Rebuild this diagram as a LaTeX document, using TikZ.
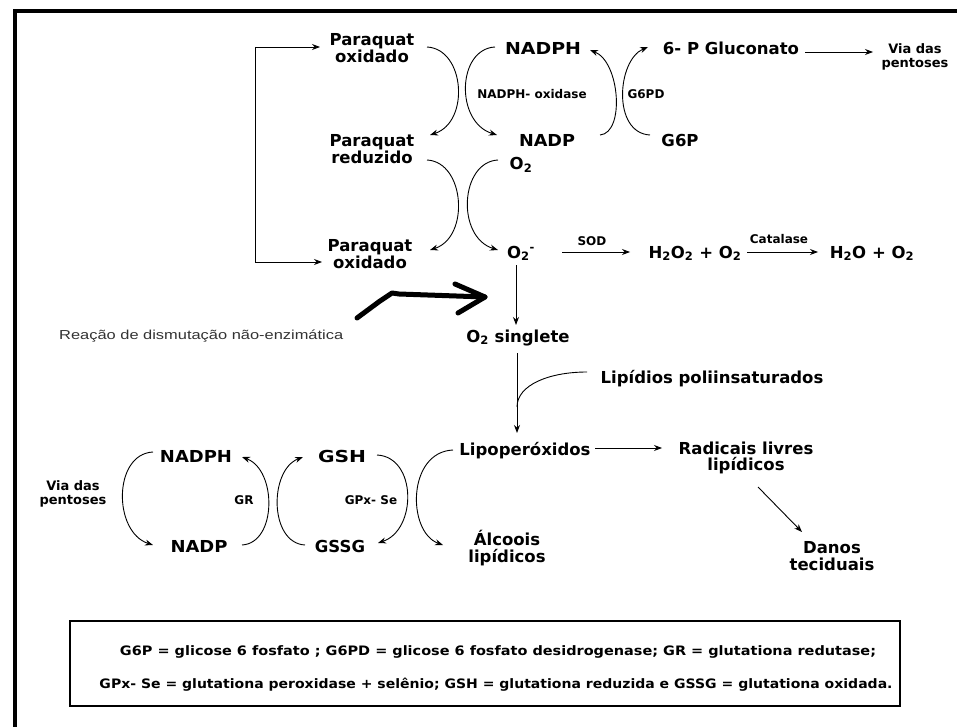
\documentclass[tikz,border=0pt]{standalone}
\usepackage{fontspec}
\usepackage{graphicx}
\setmainfont{DejaVu Sans}
\newfontfamily\arialf{Liberation Sans}
\usetikzlibrary{arrows.meta,calc}
\newcommand{\fitw}[2]{\resizebox{#1}{\height}{#2}}
\newcommand{\mysb}[1]{\textsubscript{#1}}
\begin{document}
\begin{tikzpicture}[x=1pt,y=-1pt,
  big/.style={font=\fontsize{16.5}{16.5}\selectfont\bfseries, align=center, inner sep=0pt},
  sml/.style={font=\fontsize{12}{13}\selectfont\bfseries, align=center, inner sep=0pt},
  via/.style={font=\fontsize{13}{14.5}\selectfont\bfseries, align=center, inner sep=0pt},
  leg/.style={font=\fontsize{13}{14}\selectfont\bfseries, inner sep=0pt},
  arr/.style={-{Stealth[length=8pt,width=6pt]}, line width=0.9pt},
  ln/.style={line width=0.9pt},
  hand/.style={line width=5pt, line cap=round, line join=round},
]
\useasboundingbox (0,0) rectangle (957,727);
\fill[white] (0,0) rectangle (957,727);
% frame
\draw[line width=4pt] (957,11) -- (15,11) -- (15,727);

% nodes top
\node[big] (po1) at (372,48) {Paraquat\\oxidado};
\node[big, anchor=base] (nadph1) at (543,55) {\fitw{76pt}{NADPH}};
\node[big, anchor=base] (glu) at (731,55) {6- P Gluconato};
\node[via] (via1) at (915,57) {Via das\\pentoses};
\node[sml, anchor=base] (nox) at (532,99) {NADPH- oxidase};
\node[sml, anchor=base] (g6pd) at (646,99) {G6PD};
\node[big] (pr) at (372,149) {Paraquat\\reduzido};
\node[big, anchor=base] (nadp1) at (547,147) {\fitw{56pt}{NADP}};
\node[big, anchor=base] (g6p) at (680,147) {G6P};
\node[big, anchor=base] (o2a) at (521,170) {O\mysb{2}};
\node[big] (po2) at (370,254) {Paraquat\\oxidado};
\node[big, anchor=base] (o2m) at (521,258) {O\mysb{2}\textsuperscript{-}};
\node[sml, anchor=base] (sod) at (592,245) {SOD};
\node[big, anchor=base] (h2o2) at (695,258) {H\mysb{2}O\mysb{2} + O\mysb{2}};
\node[sml, anchor=base] (cat) at (779,243) {Catalase};
\node[big, anchor=base] (h2o) at (872,258) {H\mysb{2}O + O\mysb{2}};
\node[big, anchor=base] (sing) at (518,342) {O\mysb{2} singlete};
\node[big, anchor=base] (lipid) at (712,383) {Lipídios poliinsaturados};
\node[big, anchor=base] (lipo) at (525,455) {Lipoperóxidos};
\node[big] (rad) at (746,458) {Radicais livres\\lipídicos};
\node[big] (danos) at (832,556) {Danos\\teciduais};
\node[big] (alc) at (507,548) {Álcoois\\lipídicos};
\node[big, anchor=base] (nadph2) at (196,462) {\fitw{72pt}{NADPH}};
\node[big, anchor=base] (nadp2) at (199,552) {\fitw{57pt}{NADP}};
\node[sml, anchor=base] (gr) at (244,504) {GR};
\node[big, anchor=base] (gsh) at (342,462) {\fitw{48pt}{GSH}};
\node[big, anchor=base] (gssg) at (340,552) {GSSG};
\node[sml, anchor=base] (gpx) at (371,504) {GPx- Se};
\node[via] (via2) at (73,494) {Via das\\pentoses};
\node[anchor=base west, inner sep=0pt, font=\arialf\fontsize{13}{15}\selectfont, text=black!80] (reac) at (59,339) {\fitw{284pt}{Reação de dismutação não-enzimática}};

% top cycle curves
\draw[arr] ($(po1)+(55,-1)$) .. controls +(38,2) and +(40,-13) .. ($(pr)+(58,-14)$);
\draw[arr] ($(nadph1.base)+(-48,-8)$) .. controls +(-38,2) and +(-42,-13) .. ($(nadp1.base)+(-50,-12)$);
\draw[arr] ($(nadp1.base)+(53,-12)$) .. controls +(25,-2) and +(30,12) .. ($(nadph1.base)+(47,-5)$);
\draw[arr] ($(g6p.base)+(-30,-12)$) .. controls +(-38,-2) and +(-31,13) .. ($(glu.base)+(-83,-8)$);
\draw[arr] ($(pr)+(55,11)$) .. controls +(38,2) and +(40,-13) .. ($(po2)+(60,-4)$);
\draw[arr] ($(o2a.base)+(-23,-10)$) .. controls +(-38,2) and +(-42,-13) .. ($(o2m.base)+(-23,-8)$);

% bracket
\coordinate (bt) at (255,47);
\coordinate (bb) at (255,262);
\draw[ln] (bt) -- (bb);
\draw[arr] (bt) -- ($(po1)+(-52,-1)$);
\draw[arr] (bb) -- ($(po2)+(-48,8)$);

% straight arrows
\draw[arr] ($(glu.base)+(74,-3)$) -- ($(via1)+(-42,-5)$);
\draw[arr] ($(o2m.base)+(41,-6)$) -- ($(h2o2.base)+(-65,-6)$);
\draw[arr] ($(h2o2.base)+(52,-6)$) -- ($(h2o.base)+(-54,-6)$);
\draw[arr] ($(o2m.base)+(-5,7)$) -- ($(sing.base)+(-2,-17)$);
\draw[arr] ($(sing.base)+(-1,11)$) -- ($(lipo.base)+(-8,-22)$);
\coordinate (join) at ($(sing.base)+(-1,65)$);
\draw[ln] ($(lipid.base)+(-125,-11)$) .. controls +(-38,0) and +(0,-22) .. (join);
\draw[arr] ($(lipo.base)+(70,-7)$) -- ($(rad)+(-84,-10)$);
\draw[arr] ($(rad)+(12,29)$) -- ($(danos)+(-30,-24)$);

% lower cycles
\draw[arr] ($(nadph2.base)+(-43,-10)$) .. controls +(-40,2) and +(-40,-13) .. ($(nadp2.base)+(-46,-7)$);
\draw[arr] ($(nadp2.base)+(43,-7)$) .. controls +(35,-2) and +(35,13) .. ($(nadph2.base)+(46,-5)$);
\draw[arr] ($(gssg.base)+(-35,-7)$) .. controls +(-36,-2) and +(-34,13) .. ($(gsh.base)+(-39,-5)$);
\draw[arr] ($(gsh.base)+(35,-7)$) .. controls +(40,2) and +(39,-13) .. ($(gssg.base)+(38,-9)$);
\draw[arr] ($(lipo.base)+(-72,-5)$) .. controls +(-46,2) and +(-36,-13) .. ($(alc)+(-64,-3)$);

% hand-drawn arrow
\coordinate (hs) at (357,318);
\coordinate (ht) at (485,297);
\draw[hand] (hs) -- (380,301) -- (392,293) -- (399,294) -- (ht);
\draw[hand] (455,284) -- (ht) -- (458,313);

% legend
\node[draw, line width=1.3pt, minimum width=830pt, minimum height=85pt, inner sep=0pt] (legbox) at (485,663.5) {};
\node[leg] (leg1) at (498,652) {\fitw{756pt}{G6P = glicose 6 fosfato ; G6PD = glicose 6 fosfato desidrogenase; GR = glutationa redutase;}};
\node[leg] (leg2) at (496,685) {\fitw{793pt}{GPx- Se = glutationa peroxidase + selênio; GSH = glutationa reduzida e GSSG = glutationa oxidada.}};
\end{tikzpicture}
\end{document}
